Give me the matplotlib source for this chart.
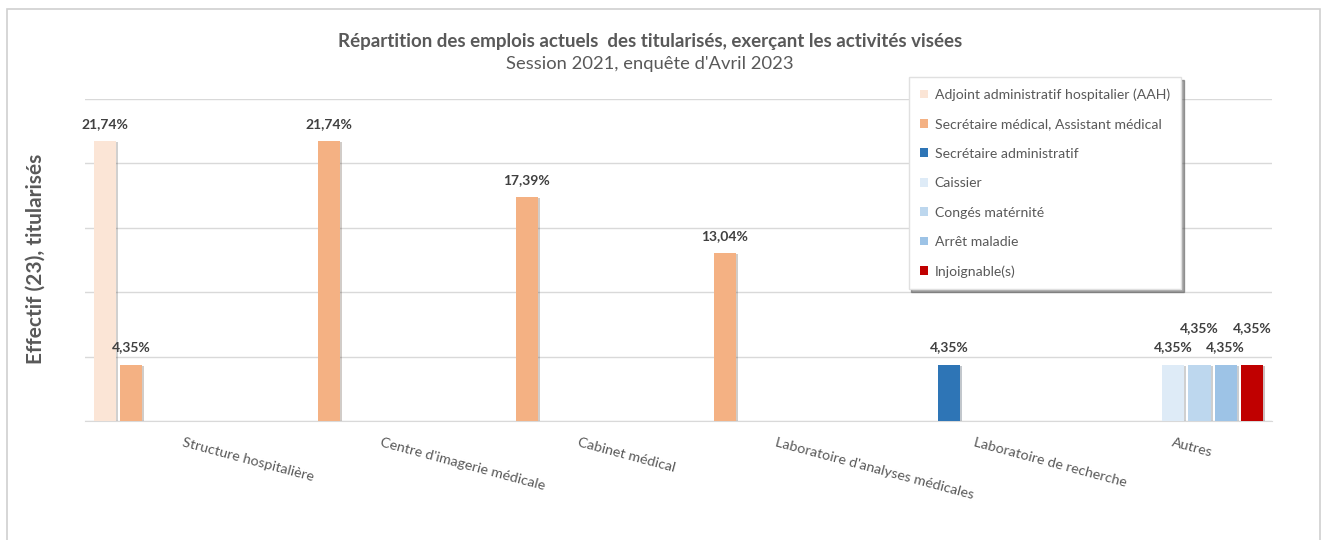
import numpy as np
import matplotlib
matplotlib.use("Agg")
import matplotlib.pyplot as plt
import matplotlib.patheffects as pe
from matplotlib.patches import Rectangle

plt.rcParams['font.family'] = ['Lato', 'DejaVu Sans']

categories = ["Structure hospitalière", "Centre d'imagerie médicale", "Cabinet médical",
              "Laboratoire d'analyses médicales", "Laboratoire de recherche", "Autres"]
series = ["Adjoint administratif hospitalier (AAH)", "Secrétaire médical, Assistant médical",
          "Secrétaire administratif", "Caissier", "Congés matérnité", "Arrêt maladie",
          "Injoignable(s)"]
colors = ["#FBE5D6", "#F4B183", "#2E75B6", "#DEEBF7", "#BDD7EE", "#9DC3E6", "#C00000"]

nan = np.nan
aah        = [21.74, nan, nan, nan, nan, nan]
sec_med    = [4.35, 21.74, 17.39, 13.04, nan, nan]
sec_admin  = [nan, nan, nan, nan, 4.35, nan]
caissier   = [nan, nan, nan, nan, nan, 4.35]
conges     = [nan, nan, nan, nan, nan, 4.35]
arret      = [nan, nan, nan, nan, nan, 4.35]
injoign    = [nan, nan, nan, nan, nan, 4.35]
values = [aah, sec_med, sec_admin, caissier, conges, arret, injoign]

fig = plt.figure(figsize=(13.27, 5.4), dpi=100)
ax = fig.add_axes([0.064, 0.2204, 0.8946, 0.5963])

# light frame around the chart area
fig.patches.append(Rectangle((0.0055, -0.05), 0.9895, 1.033, transform=fig.transFigure,
                             fill=False, edgecolor="#D0D0D0", lw=1.2))

x = np.arange(len(categories))
slot = 0.133
bw = 0.112
grey = "#595959"
for k, (name, vals, c) in enumerate(zip(series, values, colors)):
    pos = x + (k - 3) * slot
    bars = ax.bar(pos, vals, bw, color=c, label=name, zorder=3,
                  path_effects=[pe.SimplePatchShadow(offset=(1.5, -1), alpha=0.25), pe.Normal()])
    for xi, v in zip(pos, vals):
        if np.isnan(v):
            continue
        dy = 1.35
        if k in (4, 6):
            dy = 2.9
        ax.text(xi, v + dy, f"{v:.2f}%".replace(".", ","), ha="center", va="center",
                fontsize=10, fontweight="bold", color="#404040", zorder=4)

ax.set_xlim(-0.5, 5.5)
ax.set_ylim(0, 25)
ax.set_yticks([0, 5, 10, 15, 20, 25])
ax.yaxis.grid(True, color="#D9D9D9", lw=1, zorder=0)
ax.tick_params(axis="y", length=0, labelleft=False)
ax.set_xticks(x)
ax.set_xticklabels([])
ax.tick_params(axis="x", length=0)
for s in ["top", "right", "left"]:
    ax.spines[s].set_visible(False)
ax.spines["bottom"].set_color("#D9D9D9")

for xi, lab in zip(x, categories):
    ax.text(xi, -1.2, lab, rotation=-15, rotation_mode="anchor", ha="left", va="top",
            fontsize=10.3, color=grey)

fig.text(0.027, 0.52, "Effectif (23), titularisés", rotation=90, ha="center", va="center",
         fontsize=15, fontweight="bold", color=grey)

fig.text(0.49, 0.924, "Répartition des emplois actuels  des titularisés, exerçant les activités visées",
         ha="center", va="center", fontsize=13.5, fontweight="bold", color=grey)
fig.text(0.49, 0.881, "Session 2021, enquête d'Avril 2023", ha="center", va="center",
         fontsize=13.2, color=grey)

leg = ax.legend(loc="upper left", bbox_to_anchor=(0.6795, 0.870), bbox_transform=fig.transFigure,
                fontsize=10.1, frameon=True, shadow=True, fancybox=False, handlelength=0.6,
                handleheight=0.6, handletextpad=0.45, labelspacing=1.24, borderpad=0.8,
                labelcolor=grey)
leg.get_frame().set_edgecolor("#E0E0E0")
for h in leg.legend_handles:
    h.set_path_effects([])

fig.savefig("out.png", dpi=100)
